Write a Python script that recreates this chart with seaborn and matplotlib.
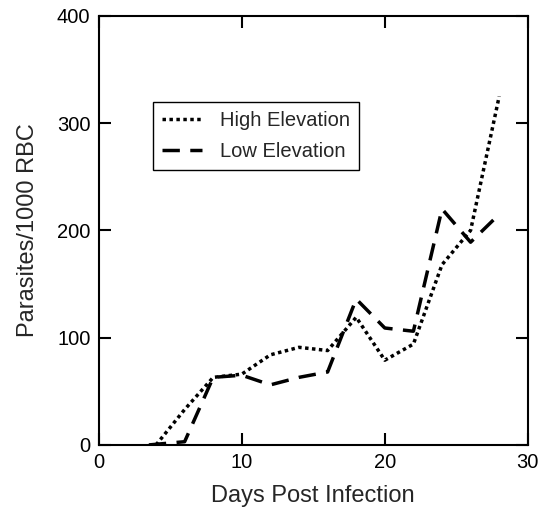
import matplotlib
matplotlib.use("Agg")
import pandas as pd
import matplotlib.pyplot as plt
import seaborn as sns

# values
days_high = [4, 6, 8, 10, 12, 14, 16, 18, 20, 22, 24, 26, 28]
parasites_high = [0, 33, 63, 66, 84, 91, 88, 119, 79, 94, 168, 200, 325]

days_low = [3.5, 6, 8, 10, 12, 14, 16, 18, 20, 22, 24, 26, 28]
parasites_low = [0, 3, 63, 65, 56, 63, 68, 136, 109, 106, 220, 189, 215]

x_ticks = [0, 10, 20, 30]
y_ticks = [0, 100, 200, 300, 400]

high_df = pd.DataFrame({'Day': days_high, 'Parasites': parasites_high})
low_df = pd.DataFrame({'Day': days_low, 'Parasites': parasites_low})

sns.set_style('ticks')
plt.rcParams['font.family'] = ['Liberation Sans', 'DejaVu Sans']

fig = plt.figure(figsize=(5.43, 5.12), dpi=100)
ax = fig.add_axes([0.182, 0.131, 0.79, 0.838])

sns.lineplot(data=high_df, x='Day', y='Parasites', ax=ax, color='black',
             linewidth=2.5, linestyle=(0, (1, 1)), label='High Elevation')
sns.lineplot(data=low_df, x='Day', y='Parasites', ax=ax, color='black',
             linewidth=2.5, linestyle=(0, (5, 3)), label='Low Elevation')

ax.set_xlim(0, 30)
ax.set_ylim(0, 400)
ax.set_xticks(x_ticks)
ax.set_yticks(y_ticks)
ax.tick_params(direction='in', length=8.6, width=1.5, labelsize=14.5,
               top=True, right=True, pad=6, colors='black')
for spine in ax.spines.values():
    spine.set_linewidth(1.5)
    spine.set_color('black')

ax.set_xlabel('Days Post Infection', fontsize=17, labelpad=9)
ax.set_ylabel('Parasites/1000 RBC', fontsize=17, labelpad=13)

leg = ax.legend(loc='upper left', bbox_to_anchor=(0.126, 0.80), borderaxespad=0,
                fontsize=14.5, frameon=True, fancybox=False, framealpha=1,
                edgecolor='black', handlelength=2.0, handletextpad=0.9,
                borderpad=0.45, labelspacing=0.6)
leg.get_frame().set_linewidth(1.0)

fig.savefig('out.png', dpi=100)
